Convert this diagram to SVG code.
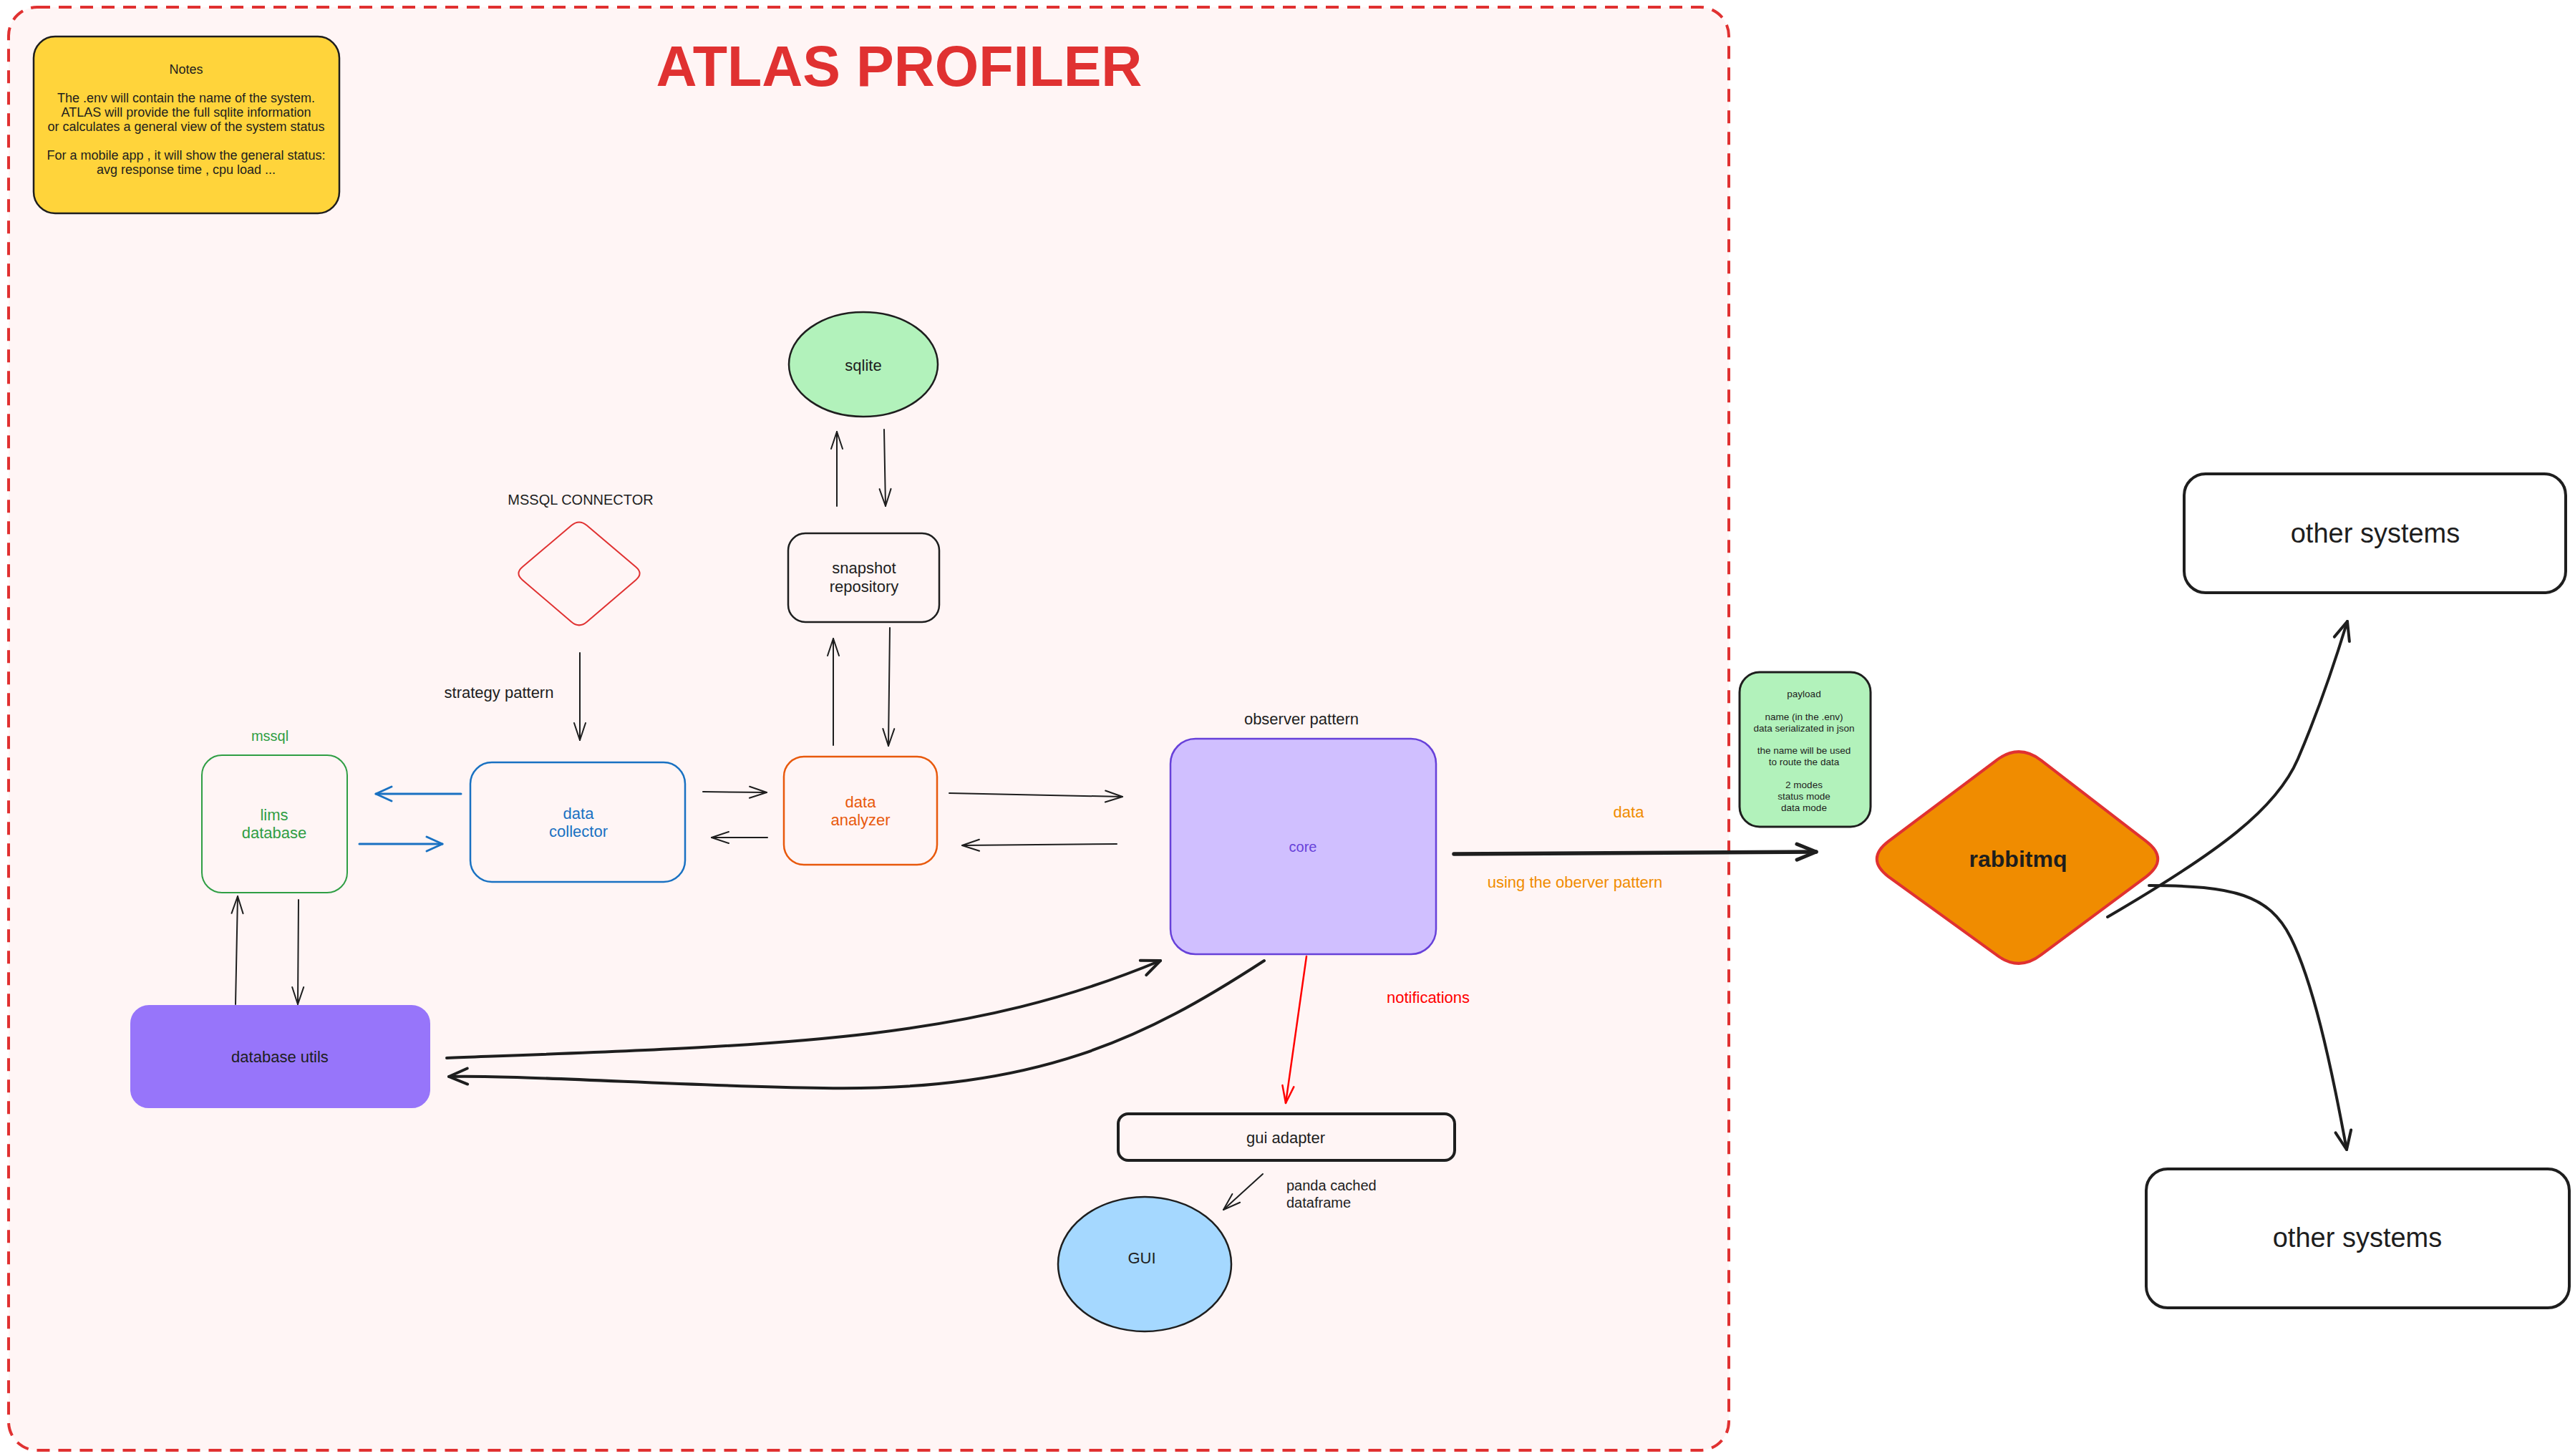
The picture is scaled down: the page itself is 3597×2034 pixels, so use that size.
<svg xmlns="http://www.w3.org/2000/svg" width="3597" height="2034" viewBox="0 0 3597 2034">
<style>
.t{font-family:"Liberation Sans",Arial,sans-serif;fill:#1e1e1e;text-anchor:middle;dominant-baseline:central}
.f13{font-size:13.5px}.f17{font-size:18px}.f20{font-size:20px}.f22{font-size:22px}.f38{font-size:38px}
.ln{fill:none;stroke:#1e1e1e;stroke-width:2;stroke-linecap:round}
.lnb{fill:none;stroke:#1971c2;stroke-width:3;stroke-linecap:round}
.lnr{fill:none;stroke:#ff0000;stroke-width:2.5;stroke-linecap:round}
.lnk{fill:none;stroke:#1e1e1e;stroke-width:4;stroke-linecap:round}
.lnx{fill:none;stroke:#1e1e1e;stroke-width:5.5;stroke-linecap:round}
</style>
<defs>
<marker id="ah" viewBox="-27 -11 30 22" refX="0" refY="0" markerWidth="30" markerHeight="22" orient="auto" markerUnits="userSpaceOnUse"><path d="M-24,-8 L0,0 L-24,8" fill="none" stroke="#1e1e1e" stroke-width="2" stroke-linecap="round" stroke-linejoin="round"/></marker>
<marker id="ahb" viewBox="-27 -13 30 26" refX="0" refY="0" markerWidth="30" markerHeight="26" orient="auto" markerUnits="userSpaceOnUse"><path d="M-22,-10 L0,0 L-22,10" fill="none" stroke="#1971c2" stroke-width="3" stroke-linecap="round" stroke-linejoin="round"/></marker>
<marker id="ahr" viewBox="-27 -11 30 22" refX="0" refY="0" markerWidth="30" markerHeight="22" orient="auto" markerUnits="userSpaceOnUse"><path d="M-24,-8 L0,0 L-24,8" fill="none" stroke="#ff0000" stroke-width="2.5" stroke-linecap="round" stroke-linejoin="round"/></marker>
<marker id="ahk" viewBox="-30 -14 33 28" refX="0" refY="0" markerWidth="33" markerHeight="28" orient="auto" markerUnits="userSpaceOnUse"><path d="M-26,-11 L0,0 L-26,11" fill="none" stroke="#1e1e1e" stroke-width="4" stroke-linecap="round" stroke-linejoin="round"/></marker>
<marker id="ahx" viewBox="-32 -15 35 30" refX="0" refY="0" markerWidth="35" markerHeight="30" orient="auto" markerUnits="userSpaceOnUse"><path d="M-27,-11 L0,0 L-27,11" fill="none" stroke="#1e1e1e" stroke-width="5" stroke-linecap="round" stroke-linejoin="round"/></marker>
</defs>
<rect width="3597" height="2034" fill="#ffffff"/>
<g id="frame">
<rect x="12" y="10" width="2403" height="2016" rx="40" fill="#fff5f5" stroke="#e03131" stroke-width="4" stroke-dasharray="18 12"/>
<text class="t" x="1256" y="120" style="font-size:79px;font-weight:bold;fill:#e03131;dominant-baseline:alphabetic">ATLAS PROFILER</text>
</g>
<g id="notes">
<rect x="47" y="51" width="427" height="247" rx="30" fill="#ffd43b" stroke="#1e1e1e" stroke-width="2.5"/>
<text class="t f17" x="260" y="97">Notes</text>
<text class="t f17" x="260" y="137">The .env will contain the name of the system.</text>
<text class="t f17" x="260" y="157">ATLAS will provide the full sqlite information</text>
<text class="t f17" x="260" y="177">or calculates a general view of the system status</text>
<text class="t f17" x="260" y="217">For a mobile app , it will show the general status:</text>
<text class="t f17" x="260" y="237">avg response time , cpu load ...</text>
</g>
<g id="sqlite">
<ellipse cx="1206" cy="509" rx="104" ry="73" fill="#b2f2bb" stroke="#1e1e1e" stroke-width="2.5"/>
<text class="t f22" x="1206" y="510">sqlite</text>
</g>
<g id="snapshot-repository">
<rect x="1101" y="745" width="211" height="124" rx="24" fill="none" stroke="#1e1e1e" stroke-width="2.5"/>
<text class="t f22" x="1207" y="793">snapshot</text>
<text class="t f22" x="1207" y="819">repository</text>
</g>
<g id="mssql-connector">
<text class="t f20" x="811" y="698">MSSQL CONNECTOR</text>
<path d="M798.2,734.1 Q809,725 819.8,734.1 L888.2,791.9 Q899,801 888.2,810.2 L819.8,868.8 Q809,878 798.2,868.8 L729.8,810.2 Q719,801 729.8,791.9 Z" fill="none" stroke="#e03131" stroke-width="2"/>
</g>
<g id="lims-database">
<text class="t f20" x="377" y="1028" style="fill:#2f9e44">mssql</text>
<rect x="282" y="1055" width="203" height="192" rx="28" fill="none" stroke="#2f9e44" stroke-width="2"/>
<text class="t f22" x="383" y="1138" style="fill:#2f9e44">lims</text>
<text class="t f22" x="383" y="1163" style="fill:#2f9e44">database</text>
</g>
<g id="data-collector">
<rect x="657" y="1065" width="300" height="167" rx="30" fill="none" stroke="#1971c2" stroke-width="2.5"/>
<text class="t f22" x="808" y="1136" style="fill:#1971c2">data</text>
<text class="t f22" x="808" y="1161" style="fill:#1971c2">collector</text>
</g>
<g id="data-analyzer">
<rect x="1095" y="1057" width="214" height="151" rx="28" fill="none" stroke="#e8590c" stroke-width="2.5"/>
<text class="t f22" x="1202" y="1120" style="fill:#e8590c">data</text>
<text class="t f22" x="1202" y="1145" style="fill:#e8590c">analyzer</text>
</g>
<g id="core">
<text class="t f22" x="1818" y="1004">observer pattern</text>
<rect x="1635" y="1032" width="371" height="301" rx="35" fill="#d0bfff" stroke="#6741d9" stroke-width="2.5"/>
<text class="t f20" x="1820" y="1183" style="fill:#6741d9">core</text>
</g>
<g id="database-utils">
<rect x="183" y="1405" width="417" height="142" rx="25" fill="#9775fa" stroke="#9775fa" stroke-width="2"/>
<text class="t f22" x="391" y="1476">database utils</text>
</g>
<g id="gui-adapter">
<rect x="1562" y="1556" width="470" height="65" rx="14" fill="none" stroke="#1e1e1e" stroke-width="4"/>
<text class="t f22" x="1796" y="1589">gui adapter</text>
</g>
<g id="gui">
<ellipse cx="1599" cy="1766" rx="121" ry="94" fill="#a5d8ff" stroke="#1e1e1e" stroke-width="2.5"/>
<text class="t f22" x="1595" y="1757">GUI</text>
</g>
<g id="payload">
<rect x="2430" y="939" width="183" height="216" rx="28" fill="#b2f2bb" stroke="#1e1e1e" stroke-width="3"/>
<text class="t f13" x="2520" y="969">payload</text>
<text class="t f13" x="2520" y="1001">name (in the .env)</text>
<text class="t f13" x="2520" y="1017">data serializated in json</text>
<text class="t f13" x="2520" y="1048">the name will be used</text>
<text class="t f13" x="2520" y="1064">to route the data</text>
<text class="t f13" x="2520" y="1096">2 modes</text>
<text class="t f13" x="2520" y="1112">status mode</text>
<text class="t f13" x="2520" y="1128">data mode</text>
</g>
<g id="rabbitmq">
<path d="M2788.5,1062.3 Q2820,1038 2851.5,1062.3 L2998.5,1175.7 Q3030,1200 2998.5,1224.3 L2851.5,1333.7 Q2820,1358 2788.5,1333.7 L2637.5,1224.3 Q2606,1200 2637.5,1175.7 Z" fill="#f08c00" stroke="#e03131" stroke-width="4"/>
<text class="t" x="2819" y="1200" style="font-size:32px;font-weight:bold">rabbitmq</text>
</g>
<g id="other-systems-1">
<rect x="3051" y="662" width="533" height="166" rx="30" fill="#ffffff" stroke="#1e1e1e" stroke-width="4"/>
<text class="t f38" x="3318" y="745">other systems</text>
</g>
<g id="other-systems-2">
<rect x="2998" y="1633" width="591" height="194" rx="30" fill="#ffffff" stroke="#1e1e1e" stroke-width="4"/>
<text class="t f38" x="3293" y="1729">other systems</text>
</g>
<g id="connectors">
<path class="ln" d="M1169,707 L1169,603" marker-end="url(#ah)"/>
<path class="ln" d="M1235,600 L1237,707" marker-end="url(#ah)"/>
<path class="ln" d="M1164,1041 L1164,892" marker-end="url(#ah)"/>
<path class="ln" d="M1243,877 L1241,1042" marker-end="url(#ah)"/>
<path class="ln" d="M810,912 L810,1034" marker-end="url(#ah)"/>
<path class="lnb" d="M644,1109 L525,1109" marker-end="url(#ahb)"/>
<path class="lnb" d="M502,1179 L618,1179" marker-end="url(#ahb)"/>
<path class="ln" d="M982,1106 L1071,1107" marker-end="url(#ah)"/>
<path class="ln" d="M1072,1170 L994,1170" marker-end="url(#ah)"/>
<path class="ln" d="M1326,1108 L1568,1113" marker-end="url(#ah)"/>
<path class="ln" d="M1560,1179 L1344,1181" marker-end="url(#ah)"/>
<path class="ln" d="M329,1403 L332,1252" marker-end="url(#ah)"/>
<path class="ln" d="M417,1257 L416,1403" marker-end="url(#ah)"/>
<path class="lnk" d="M624,1478 C1100,1460 1350,1455 1621,1342" marker-end="url(#ahk)"/>
<path class="lnk" d="M1766,1342 C1600,1450 1450,1525 1150,1520 C950,1517 740,1502 627,1504" marker-end="url(#ahk)"/>
<path class="lnr" d="M1825,1336 L1796,1541" marker-end="url(#ahr)"/>
<path class="ln" d="M1764,1640 L1709,1690" marker-end="url(#ah)"/>
<path class="lnx" d="M2031,1193 L2537,1190" marker-end="url(#ahx)"/>
<path class="lnk" d="M2944,1281 C3100,1190 3180,1130 3210,1060 S3260,930 3279,868" marker-end="url(#ahk)"/>
<path class="lnk" d="M3002,1237 C3120,1237 3170,1250 3200,1310 C3230,1370 3255,1480 3278,1606" marker-end="url(#ahk)"/>
</g>
<g id="labels">
<text class="t f22" x="697" y="967">strategy pattern</text>
<text class="t f22" x="2275" y="1134" style="fill:#f08c00">data</text>
<text class="t f22" x="2200" y="1232" style="fill:#f08c00">using the oberver pattern</text>
<text class="t f22" x="1995" y="1393" style="fill:#ff0000">notifications</text>
<text class="t f20" x="1797" y="1656" style="text-anchor:start">panda cached</text>
<text class="t f20" x="1797" y="1680" style="text-anchor:start">dataframe</text>
</g>
</svg>
